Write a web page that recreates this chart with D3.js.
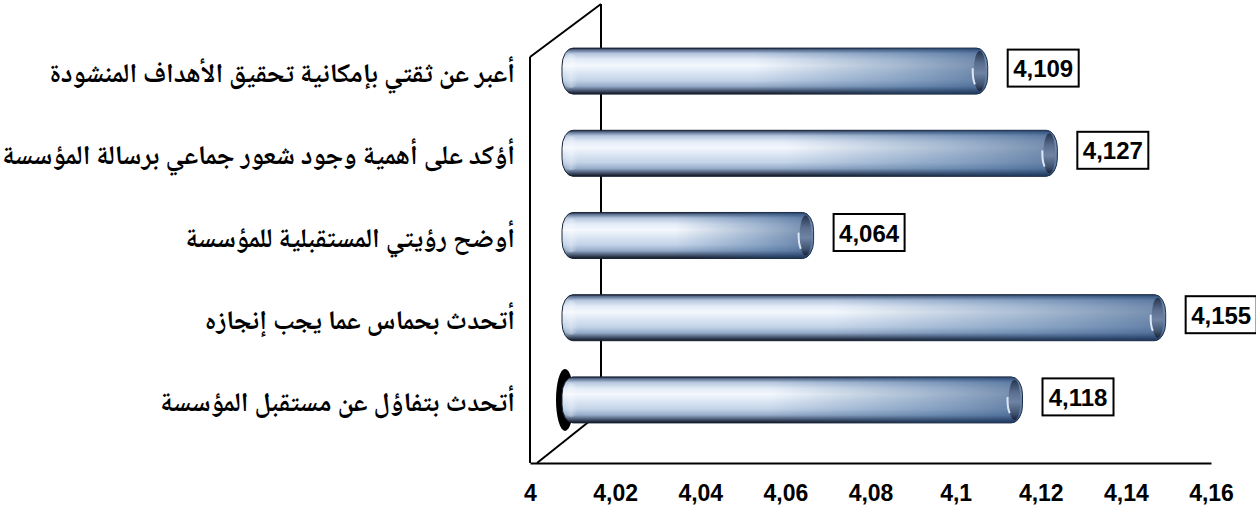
<!DOCTYPE html>
<html lang="ar">
<head>
<meta charset="utf-8">
<script src="https://cdn.jsdelivr.net/npm/d3@7"></script>
<style>
  html, body { margin: 0; padding: 0; background: #ffffff; }
  svg { display: block; }
</style>
</head>
<body>
<svg id="chart" width="1256" height="509"></svg>
<script>
// Statements, listed top to bottom as they appear on the chart
const categories = [
  "أعبر عن ثقتي بإمكانية تحقيق الأهداف المنشودة",
  "أؤكد على أهمية وجود شعور جماعي برسالة المؤسسة",
  "أوضح رؤيتي المستقبلية للمؤسسة",
  "أتحدث بحماس عما يجب إنجازه",
  "أتحدث بتفاؤل عن مستقبل المؤسسة"
];
// Mean score of each statement
const values = [4.109, 4.127, 4.064, 4.155, 4.118];
// Value axis
const xDomain = [4, 4.16];
const tickValues = [4, 4.02, 4.04, 4.06, 4.08, 4.1, 4.12, 4.14, 4.16];

// Comma as decimal separator
const locale = d3.formatLocale({ decimal: ",", thousands: " ", grouping: [3], currency: ["", ""] });
const fmtTick = locale.format("~g");
const fmtValue = locale.format(".3f");

const svg = d3.select("#chart");

// Front edge of the floor carries the axis labels; the bars sit deeper in the box
const xFront = d3.scaleLinear().domain(xDomain).range([530, 1211]);
const xBar = d3.scaleLinear().domain(xDomain).range([566, 1185]);
const y = d3.scaleBand().domain(categories).range([30, 441]).paddingInner(0.44).paddingOuter(0.22);

const floorY = 463;
const depth = { dx: 71, dy: -53 };
const wallTop = 57;

// ---------- gradients ----------
const defs = svg.append("defs");

const body = defs.append("linearGradient").attr("id", "cylBody")
  .attr("x1", 0).attr("y1", 0).attr("x2", 0).attr("y2", 1);
[
  [0.00, "#1b2333"], [0.04, "#5b6f8f"], [0.12, "#b5c6de"], [0.25, "#e3ebf7"],
  [0.38, "#f4f8fd"], [0.52, "#dde7f4"], [0.70, "#c3d3e8"], [0.83, "#95abc8"],
  [0.92, "#4a5a75"], [1.00, "#0e131d"]
].forEach(([o, c]) => body.append("stop").attr("offset", o).attr("stop-color", c));

const shade = defs.append("linearGradient").attr("id", "cylShade")
  .attr("x1", 0).attr("y1", 0).attr("x2", 1).attr("y2", 0);
[
  [0.00, "#2f5a8c", 0], [0.45, "#2f5a8c", 0], [0.78, "#2f5a8c", 0.38], [1.00, "#24487a", 0.62]
].forEach(([o, c, a]) => shade.append("stop").attr("offset", o).attr("stop-color", c).attr("stop-opacity", a));

const endFace = defs.append("linearGradient").attr("id", "cylEnd")
  .attr("x1", 0).attr("y1", 0).attr("x2", 0).attr("y2", 1);
[
  [0.00, "#1f2c42"], [0.30, "#56698a"], [0.55, "#6f83a3"], [0.85, "#3b4c68"], [1.00, "#151d2c"]
].forEach(([o, c]) => endFace.append("stop").attr("offset", o).attr("stop-color", c));

const leftCap = defs.append("linearGradient").attr("id", "cylLeft")
  .attr("x1", 0).attr("y1", 0).attr("x2", 1).attr("y2", 0);
[
  [0.00, "#ffffff", 0.0], [0.5, "#ffffff", 0.3], [1.0, "#ffffff", 0]
].forEach(([o, c, a]) => leftCap.append("stop").attr("offset", o).attr("stop-color", c).attr("stop-opacity", a));

// ---------- box walls ----------
const walls = svg.append("g").attr("fill", "none").attr("stroke", "#000").attr("stroke-width", 2);
const x0f = xFront(xDomain[0]);
walls.append("line").attr("x1", x0f).attr("y1", wallTop).attr("x2", x0f).attr("y2", floorY);
walls.append("line").attr("x1", x0f).attr("y1", wallTop)
  .attr("x2", x0f + depth.dx).attr("y2", wallTop + depth.dy);
walls.append("line").attr("x1", x0f + depth.dx).attr("y1", wallTop + depth.dy)
  .attr("x2", x0f + depth.dx).attr("y2", floorY + depth.dy);
walls.append("line").attr("x1", x0f + 7).attr("y1", floorY)
  .attr("x2", x0f + depth.dx).attr("y2", floorY + depth.dy + 2);

// ---------- axis ----------
const axis = d3.axisBottom(xFront)
  .tickValues(tickValues)
  .tickFormat(fmtTick)
  .tickSize(0)
  .tickPadding(22);
const axisG = svg.append("g").attr("transform", `translate(0,${floorY})`).call(axis);
axisG.select(".domain").attr("stroke", "#000").attr("stroke-width", 2);
axisG.selectAll(".tick text")
  .attr("font-family", "'Liberation Sans Narrow', 'Arial Narrow', 'Liberation Sans', Arial, sans-serif")
  .attr("font-weight", "bold")
  .attr("font-size", 23)
  .attr("fill", "#000");

// ---------- cylinders ----------
const data = categories.map((c, i) => ({ cat: c, value: values[i], i }));
const bh = y.bandwidth();
const capInset = 4;

const bars = svg.append("g").selectAll("g.bar").data(data).join("g").attr("class", "bar");

// dark base ring on the cylinder resting nearest the floor
bars.filter(d => d.i === data.length - 1)
  .append("ellipse")
  .attr("cx", xBar(xDomain[0]) - 1)
  .attr("cy", d => y(d.cat) + bh / 2)
  .attr("rx", 9)
  .attr("ry", bh / 2 + 8)
  .attr("fill", "#000");

bars.append("rect")
  .attr("x", xBar(xDomain[0]) - capInset)
  .attr("y", d => y(d.cat))
  .attr("width", d => xBar(d.value) - xBar(xDomain[0]) + capInset)
  .attr("height", bh)
  .attr("rx", 11).attr("ry", 18)
  .attr("fill", "url(#cylBody)")
  .attr("stroke", "#1a2436").attr("stroke-width", 1);

bars.append("rect")
  .attr("x", xBar(xDomain[0]) - capInset)
  .attr("y", d => y(d.cat))
  .attr("width", d => xBar(d.value) - xBar(xDomain[0]) + capInset)
  .attr("height", bh)
  .attr("rx", 11).attr("ry", 18)
  .attr("fill", "url(#cylShade)");

// soft sheen on the rounded left end
bars.append("rect")
  .attr("x", xBar(xDomain[0]) - capInset + 2)
  .attr("y", d => y(d.cat) + 6)
  .attr("width", 14)
  .attr("height", bh - 12)
  .attr("rx", 7)
  .attr("fill", "url(#cylLeft)");

// end face of each cylinder
bars.append("ellipse")
  .attr("cx", d => xBar(d.value) - 8)
  .attr("cy", d => y(d.cat) + bh / 2)
  .attr("rx", 6)
  .attr("ry", bh / 2 - 3)
  .attr("fill", "url(#cylEnd)")
  .attr("opacity", 0.9);

// light rim on the end face
bars.append("path")
  .attr("d", d => {
    const cx = xBar(d.value) - 8, cy = y(d.cat) + bh / 2, ry = bh / 2 - 6;
    return `M${cx - 1},${cy - ry} A6,${ry} 0 0 0 ${cx - 1},${cy + ry}`;
  })
  .attr("fill", "none")
  .attr("stroke", "#e8f1ff")
  .attr("stroke-width", 2)
  .attr("stroke-dasharray", d => `0 ${bh * 0.35} ${bh * 0.35} 200`)
  .attr("opacity", 0.9);

// ---------- value labels ----------
const boxW = 71, boxH = 37, boxGap = 20;
const labels = svg.append("g").selectAll("g.vl").data(data).join("g").attr("class", "vl")
  .attr("transform", d => `translate(${xBar(d.value) + boxGap},${y(d.cat) + bh / 2 - 3 - boxH / 2})`);
labels.append("rect")
  .attr("width", boxW).attr("height", boxH)
  .attr("fill", "#fff").attr("stroke", "#000").attr("stroke-width", 2);
labels.append("text")
  .attr("x", boxW / 2).attr("y", boxH / 2 + 9)
  .attr("text-anchor", "middle")
  .attr("font-family", "'Liberation Sans', Arial, sans-serif")
  .attr("font-weight", "bold")
  .attr("font-size", 24)
  .attr("fill", "#000")
  .text(d => fmtValue(d.value));

// ---------- category labels ----------
svg.append("g").selectAll("text").data(data).join("text")
  .attr("x", 515)
  .attr("y", d => y(d.cat) + bh / 2 + 11)
  .attr("direction", "rtl")
  .attr("text-anchor", "start")
  .attr("font-family", "'Noto Naskh Arabic', 'Noto Sans Arabic', 'DejaVu Sans', sans-serif")
  .attr("font-weight", "bold")
  .attr("font-size", 27)
  .attr("fill", "#000")
  .text(d => d.cat);
</script>
</body>
</html>
